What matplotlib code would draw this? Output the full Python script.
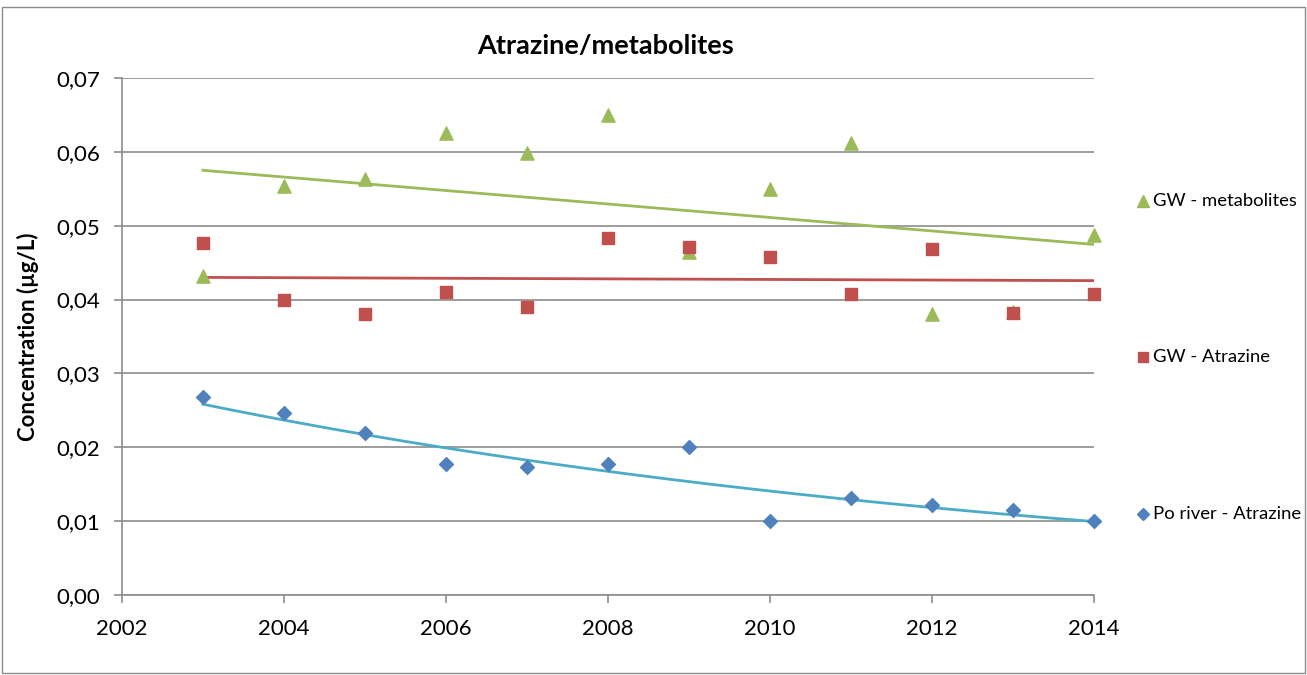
import numpy as np
import matplotlib
matplotlib.use("Agg")
import matplotlib.pyplot as plt
from matplotlib.patches import Rectangle
from matplotlib.ticker import FuncFormatter, MultipleLocator

years = [2003, 2004, 2005, 2006, 2007, 2008, 2009, 2010, 2011, 2012, 2013, 2014]
gw_metabolites = [0.0432, 0.0554, 0.0563, 0.0625, 0.0598, 0.0650, 0.0464, 0.0550, 0.0612, 0.0380, 0.0383, 0.0487]
gw_atrazine = [0.0477, 0.0399, 0.0380, 0.0410, 0.0390, 0.0483, 0.0471, 0.0458, 0.0408, 0.0468, 0.0382, 0.0408]
po_atrazine = [0.0268, 0.0246, 0.0219, 0.0177, 0.0173, 0.0177, 0.0200, 0.0100, 0.0131, 0.0122, 0.0115, 0.0100]

labels = ["GW - metabolites", "GW - Atrazine", "Po river - Atrazine"]
title = "Atrazine/metabolites"
ylabel = "Concentration (µg/L)"

plt.rcParams['font.family'] = ['Lato', 'DejaVu Sans']

fig = plt.figure(figsize=(13.07, 6.75), dpi=100)
W, H = 1307, 675
ax = fig.add_axes([122 / W, 1 - 595 / H, (1094 - 122) / W, (595 - 78) / H])

x = np.array(years, dtype=float)
c_green, c_red, c_blue, c_cyan = "#9BBB59", "#C0504D", "#4F81BD", "#4BACC6"

# trend lines
p = np.polyfit(x, gw_metabolites, 1)
ax.plot(x, np.polyval(p, x), color=c_green, lw=2, zorder=2)
p = np.polyfit(x, gw_atrazine, 1)
ax.plot(x, np.polyval(p, x), color=c_red, lw=2, zorder=2)
p = np.polyfit(x, np.log(po_atrazine), 1)
xx = np.linspace(x[0], x[-1], 200)
ax.plot(xx, np.exp(np.polyval(p, xx)), color=c_cyan, lw=2, zorder=2)

ax.scatter(x, gw_metabolites, marker="^", s=90, color=c_green, zorder=3, clip_on=False)
ax.scatter(x, gw_atrazine, marker="s", s=65, color=c_red, zorder=4, clip_on=False)
ax.scatter(x, po_atrazine, marker="D", s=50, color=c_blue, zorder=3, clip_on=False)

ax.set_xlim(2002, 2014)
ax.set_ylim(0, 0.07)
ax.xaxis.set_major_locator(MultipleLocator(2))
ax.yaxis.set_major_locator(MultipleLocator(0.01))
ax.yaxis.set_major_formatter(FuncFormatter(lambda v, pos: f"{v:.2f}".replace(".", ",")))
ax.grid(axis="y", color="#8c8c8c", lw=1.2)
ax.set_axisbelow(True)
for s in ["top", "right"]:
    ax.spines[s].set_visible(False)
for s in ["left", "bottom"]:
    ax.spines[s].set_color("#8c8c8c")
    ax.spines[s].set_linewidth(1.2)
ax.tick_params(axis="both", colors="#8c8c8c", labelcolor="black", labelsize=16, length=6, width=1.2)
ax.tick_params(axis="x", pad=11)
ax.tick_params(axis="y", pad=10)

ax.set_ylabel(ylabel, fontsize=16, fontweight="bold", labelpad=12)
fig.text(606 / W, 1 - 46 / H, title, ha="center", va="center", fontsize=19.5, fontweight="bold")

# legend entries
for lab, yy, mk, col, ms in [(labels[0], 201, "^", c_green, 9),
                             (labels[1], 357, "s", c_red, 7),
                             (labels[2], 514, "D", c_blue, 6)]:
    fig.lines.append(plt.Line2D([1143 / W], [1 - yy / H], marker=mk, color=col, markersize=ms,
                                linestyle="none", transform=fig.transFigure))
    fig.text(1153 / W, 1 - yy / H, lab, ha="left", va="center", fontsize=13.3)

fig.patches.append(Rectangle((2 / W, 2 / H), 1 - 4 / W, 1 - 9 / H, transform=fig.transFigure,
                             fill=False, edgecolor="#8c8c8c", lw=1))

fig.savefig("out.png", dpi=100)
